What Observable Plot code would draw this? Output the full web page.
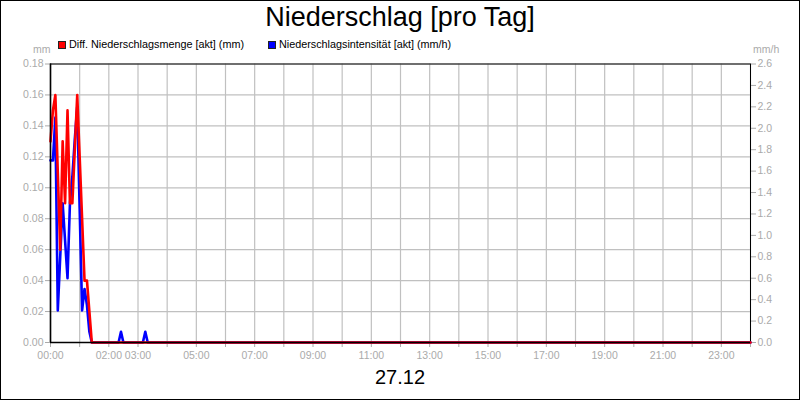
<!DOCTYPE html>
<html>
<head>
<meta charset="utf-8">
<script src="https://cdn.jsdelivr.net/npm/d3@7"></script>
<script src="https://cdn.jsdelivr.net/npm/@observablehq/plot@0.6"></script>
<style>
  html, body { margin: 0; padding: 0; background: #fff; }
  #wrap { position: relative; width: 800px; height: 400px; overflow: hidden; background: #fff;
          font-family: "Liberation Sans", Arial, sans-serif; }
  #border { position: absolute; left: 0; top: 0; width: 800px; height: 400px; box-sizing: border-box;
            border: 1px solid #000; pointer-events: none; }
  .abs { position: absolute; white-space: nowrap; }
  #title { left: 0; width: 800px; top: 4px; text-align: center; font-size: 27px; line-height: 27px; color: #000; }
  #date { left: 0; width: 800px; top: 367px; text-align: center; font-size: 20px; line-height: 20px; color: #000; }
  .leg { top: 39px; font-size: 10.8px; line-height: 11px; color: #000; }
  .sw { position: absolute; top: 41px; width: 8px; height: 8px; box-sizing: border-box; border: 1px solid #222; }
  .unit { top: 44px; font-size: 10.5px; line-height: 11px; color: #aaa; }
  #chart { position: absolute; left: 0; top: 0; }
</style>
</head>
<body>
<div id="wrap">
  <div id="chart"></div>
  <div id="title" class="abs">Niederschlag [pro Tag]</div>
  <div class="sw" style="left:58px;background:#ff0000"></div>
  <div class="abs leg" style="left:69px">Diff. Niederschlagsmenge [akt] (mm)</div>
  <div class="sw" style="left:268px;background:#0000ff"></div>
  <div class="abs leg" style="left:279px">Niederschlagsintensität [akt] (mm/h)</div>
  <div class="abs unit" style="left:33px">mm</div>
  <div class="abs unit" style="left:753px">mm/h</div>
  <div id="date" class="abs">27.12</div>
  <div id="border"></div>
</div>
<script>
// ---- data ----
const mengeTimes = ["00:00","00:05","00:10","00:15","00:20","00:25","00:30","00:35","00:40","00:45",
                    "00:50","00:55","01:00","01:05","01:10","01:15","01:20","01:25","24:00"];
const mengeValues = [0.13,0.15,0.16,0.11,0.06,0.13,0.09,0.15,0.09,0.09,
                     0.125,0.16,0.12,0.08,0.04,0.04,0.02,0,0];

const intensTimes = ["00:00","00:05","00:10","00:15","00:20","00:25","00:30","00:35","00:40","00:45",
                     "00:50","00:55","01:00","01:05","01:10","01:15","01:20","01:25",
                     "02:20","02:25","02:30","03:10","03:15","03:20","24:00"];
const intensValues = [1.7,1.7,2.1,0.3,0.8,1.3,0.95,0.6,1.3,1.55,
                      1.9,2.2,1.25,0.3,0.5,0.35,0.1,0,
                      0,0.1,0,0,0.1,0,0];

const leftTicks = [0,0.02,0.04,0.06,0.08,0.10,0.12,0.14,0.16,0.18];
const rightTicks = [0,0.2,0.4,0.6,0.8,1.0,1.2,1.4,1.6,1.8,2.0,2.2,2.4,2.6];
const hourTicks = [0,1,2,3,4,5,6,7,8,9,10,11,12,13,14,15,16,17,18,19,20,21,22,23,24];
const hourLabels = ["00:00","02:00","03:00","05:00","07:00","09:00","11:00","13:00","15:00","17:00","19:00","21:00","23:00"];

const leftMax = 0.18, rightMax = 2.6;
const toHours = s => { const [h, m] = s.split(":").map(Number); return h + m / 60; };
const labelSet = new Set(hourLabels.map(toHours));
const fmtHour = h => String(h).padStart(2, "0") + ":00";

const menge = mengeTimes.map((t, i) => ({x: toHours(t), y: mengeValues[i]}));
const intens = intensTimes.map((t, i) => ({x: toHours(t), y: intensValues[i] * leftMax / rightMax}));

const grey = "#aaaaaa";
const gridCol = "#c0c0c0";

const chart = Plot.plot({
  width: 800,
  height: 400,
  marginLeft: 50,
  marginRight: 50,
  marginTop: 63.5,
  marginBottom: 58,
  style: {fontFamily: "'Liberation Sans', Arial, sans-serif", fontSize: "10.5px", color: grey, background: "transparent"},
  x: {domain: [0, 24]},
  y: {domain: [0, leftMax]},
  marks: [
    Plot.gridX(hourTicks, {stroke: gridCol, strokeOpacity: 1, strokeWidth: 1.2}),
    Plot.gridY(leftTicks, {stroke: gridCol, strokeOpacity: 1, strokeWidth: 1.2}),
    Plot.axisX({ticks: hourTicks, tickSize: 5, tickFormat: d => labelSet.has(d) ? fmtHour(d) : "", label: null}),
    Plot.axisY({ticks: leftTicks, tickSize: 5, tickPadding: 2, tickFormat: d => d.toFixed(2), label: null}),
    Plot.axisY({anchor: "right", ticks: rightTicks.map(v => v * leftMax / rightMax), tickSize: 5, tickPadding: 2,
                tickFormat: d => (d * rightMax / leftMax).toFixed(1), label: null}),
    Plot.frame({stroke: "#000", strokeWidth: 1}),
    Plot.line(intens, {x: "x", y: "y", stroke: "#0000ff", strokeWidth: 2.6}),
    Plot.line(menge, {x: "x", y: "y", stroke: "#ff0000", strokeWidth: 2.6}),
    Plot.ruleX([0], {stroke: "#000", strokeWidth: 1.6}),
    Plot.ruleY([0], {stroke: "#000", strokeWidth: 1.6})
  ]
});
document.getElementById("chart").appendChild(chart);
</script>
</body>
</html>
